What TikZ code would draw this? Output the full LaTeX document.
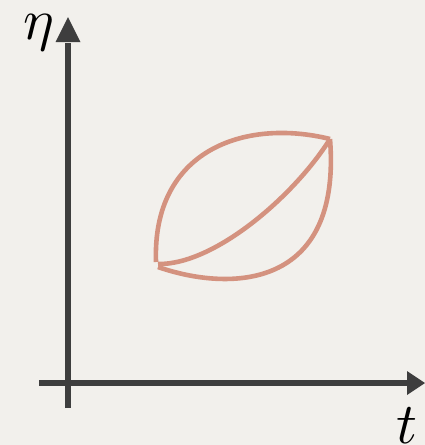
\documentclass[tikz,border=0pt]{standalone}
\usepackage{tikz}
\definecolor{paper}{HTML}{F2F0EC}
\definecolor{axisgray}{HTML}{3E3E3E}
\definecolor{leafred}{HTML}{D4927F}
\begin{document}
\begin{tikzpicture}[x=1pt,y=-1pt,
  axisline/.style={draw=axisgray,line width=5.5pt},
  axistip/.style={fill=axisgray,draw=none},
  leafline/.style={draw=leafred,line width=4.6pt},
  axislabel/.style={inner sep=0pt,anchor=base,scale=5.8}]
\fill[paper] (0,0) rectangle (425,445);
\useasboundingbox (0,0) rectangle (425,445);
% axes
\coordinate (ybot) at (68,408);
\coordinate (ytop) at (68,43);
\coordinate (xleft) at (39,383);
\coordinate (xright) at (408,383);
\draw[axisline] (ybot) -- (ytop);
\draw[axisline] (xleft) -- (xright);
\fill[axistip] (55.5,42) -- (80.5,42) -- (68,17) -- cycle;
\fill[axistip] (407,371) -- (407,395) -- (425,383) -- cycle;
\node[axislabel] (eta) at (39,39) {$\eta$};
\node[axislabel] (tl) at (407,443) {$t$};
% leaf
\coordinate (A) at (156,262);
\coordinate (B) at (330,139);
\coordinate (C) at (158,267);
\coordinate (D) at (158,264);
\draw[leafline] (A) .. controls (152,150) and (245,118) .. (B);
\draw[leafline] (B) .. controls (342,290) and (230,292) .. (C);
\draw[leafline] (D) .. controls (215,265) and (295,195) .. (B);
\end{tikzpicture}
\end{document}
